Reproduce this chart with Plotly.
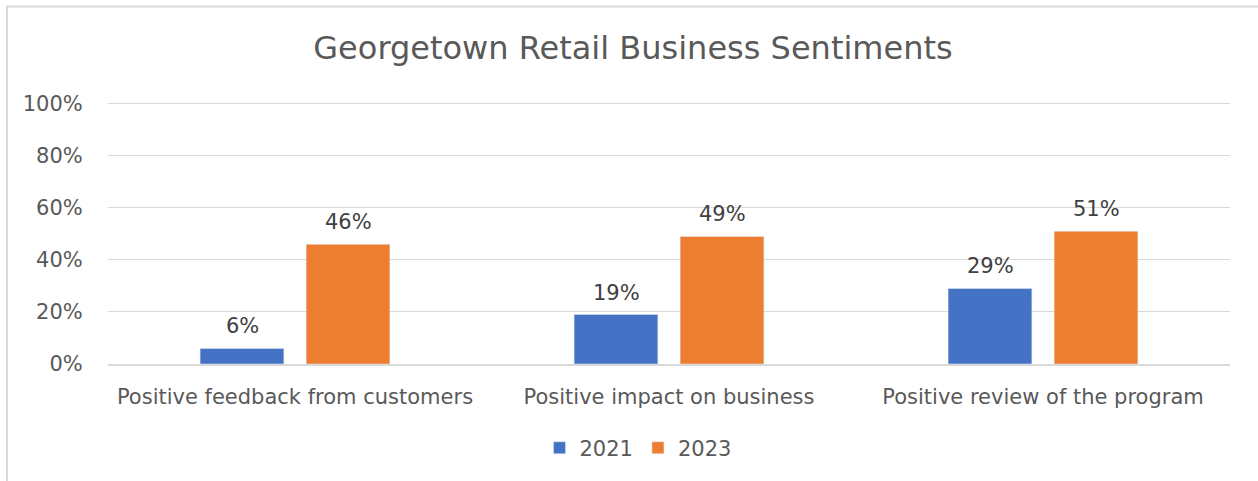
import plotly.graph_objects as go

categories = ["Positive feedback from customers", "Positive impact on business", "Positive review of the program"]
series_names = ["2021", "2023"]
values_2021 = [0.06, 0.19, 0.29]
values_2023 = [0.46, 0.49, 0.51]
colors = ["#4472C4", "#ED7D31"]
ytick_vals = [0, 0.2, 0.4, 0.6, 0.8, 1.0]
ytick_text = ["0%", "20%", "40%", "60%", "80%", "100%"]

FONT = "DejaVu Sans"
TXT = "#595959"
FS = 21

fig = go.Figure()
annotations = []
offsets = [-53, 53]
for name, vals, col, off in zip(series_names, [values_2021, values_2023], colors, offsets):
    fig.add_trace(go.Bar(x=categories, y=vals, name=name, marker_color=col))
    for c, v in zip(categories, vals):
        annotations.append(dict(x=c, y=v, xref="x", yref="y", text=f"{round(v*100)}%",
                                showarrow=False, xshift=off, yanchor="bottom", yshift=8,
                                font=dict(family=FONT, size=FS, color="#404040")))

W, H = 1258, 481
L, R, B = 108, 28, 117
YMAX = 1.01
T = 364 - 260 * YMAX
ph = H - T - B
pw = W - L - R

fig.update_layout(
    width=W, height=H,
    margin=dict(l=L, r=R, t=T, b=B, pad=0),
    paper_bgcolor="white", plot_bgcolor="white",
    barmode="group", bargap=0.433, bargroupgap=0.21,
    title=dict(text="Georgetown Retail Business Sentiments", x=633/W, xanchor="center",
               y=1-48/H, yanchor="middle", font=dict(family=FONT, size=32, color=TXT)),
    font=dict(family=FONT, color=TXT),
    showlegend=True,
    legend=dict(orientation="h", x=(638-L)/pw, xanchor="center", y=(0-(448-364))/ph, yanchor="middle",
                font=dict(family=FONT, size=FS, color=TXT), itemwidth=30, traceorder="normal"),
    xaxis=dict(showline=True, linecolor="#d9d9d9", linewidth=2, ticks="outside", ticklen=13,
               tickcolor="rgba(0,0,0,0)", tickfont=dict(family=FONT, size=FS, color=TXT), fixedrange=True),
    yaxis=dict(range=[0, YMAX], tickvals=ytick_vals, ticktext=ytick_text, showgrid=True,
               gridcolor="#d9d9d9", gridwidth=1, zeroline=False, ticks="outside", ticklen=20,
               tickcolor="rgba(0,0,0,0)", tickfont=dict(family=FONT, size=FS, color=TXT), fixedrange=True),
    annotations=annotations,
    shapes=[dict(type="rect", xref="paper", yref="paper",
                 x0=(7-L)/pw, x1=(W+20-L)/pw, y0=(H-T-(H+20))/ph, y1=(H-B-7)/ph,
                 line=dict(color="#d9d9d9", width=2), fillcolor="rgba(0,0,0,0)", layer="below")],
)

fig.write_html("out.html", config={"displayModeBar": False},
               post_script="document.body.style.margin='0';")
